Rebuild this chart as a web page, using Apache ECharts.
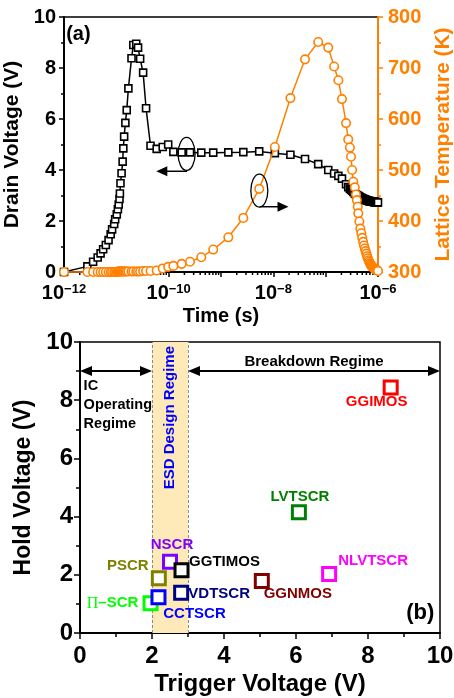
<!DOCTYPE html>
<html>
<head>
<meta charset="utf-8">
<script src="https://cdn.jsdelivr.net/npm/echarts@6/dist/echarts.min.js"></script>
<style>
html, body { margin: 0; padding: 0; background: #fff; }
#main { width: 454px; height: 698px; }
</style>
</head>
<body>
<div id="main"></div>
<script>
// ---- (a) transient: drain voltage + lattice temperature vs time ----
var timeS = [
    1e-12, 2.8e-12, 3.6e-12, 4.4e-12, 5.0e-12, 5.6e-12, 6.3e-12, 7.1e-12, 7.8e-12, 8.3e-12,
    9.1e-12, 9.5e-12, 1.02e-11, 1.07e-11, 1.11e-11, 1.15e-11, 1.17e-11, 1.2e-11, 1.26e-11, 1.32e-11,
    1.36e-11, 1.41e-11, 1.49e-11, 1.58e-11, 1.7e-11, 1.95e-11, 2.11e-11, 2.4e-11, 2.6e-11, 2.85e-11,
    3.25e-11, 3.7e-11, 4.5e-11, 5.9e-11, 7.7e-11, 9.8e-11, 1.23e-10, 1.77e-10, 2.56e-10, 4.2e-10,
    7.1e-10, 1.38e-9, 2.67e-9, 5.37e-9, 1.07e-8, 2.12e-8, 4.03e-8, 7.2e-8, 1.12e-7, 1.45e-7,
    1.75e-7, 2.05e-7,
    2.45e-7, 2.7e-7, 2.9e-7, 3.05e-7, 3.2e-7, 3.38e-7, 3.6e-7, 3.8e-7, 3.95e-7, 4.1e-7,
    4.2e-7, 4.4e-7, 4.6e-7, 4.8e-7, 5.0e-7, 5.2e-7, 5.4e-7, 5.6e-7, 5.8e-7, 6.0e-7,
    6.2e-7, 6.4e-7, 6.6e-7, 6.8e-7, 7.0e-7, 7.2e-7, 7.4e-7, 7.6e-7, 7.8e-7, 8.0e-7,
    8.2e-7, 8.4e-7, 8.6e-7, 8.8e-7, 9.0e-7, 9.2e-7, 9.4e-7, 9.6e-7, 9.8e-7, 1.0e-6
];
var drainV = [
    0.00, 0.22, 0.40, 0.57, 0.73, 0.89, 1.06, 1.25, 1.48, 1.67,
    1.88, 2.07, 2.26, 2.46, 2.65, 2.86, 3.08, 3.48, 3.87, 4.33,
    4.85, 5.31, 5.85, 6.35, 7.20, 8.38, 8.90, 8.95, 8.80, 8.36,
    7.82, 6.42, 4.95, 4.83, 4.90, 5.00, 4.71, 4.69, 4.69, 4.68,
    4.68, 4.69, 4.70, 4.73, 4.66, 4.60, 4.43, 4.23, 4.00, 3.86,
    3.77, 3.66,
    3.44, 3.33, 3.27, 3.23, 3.19, 3.14, 3.08, 3.04, 3.00, 2.99,
    2.98, 2.96, 2.93, 2.91, 2.89, 2.87, 2.86, 2.84, 2.83, 2.82,
    2.81, 2.80, 2.79, 2.78, 2.78, 2.77, 2.77, 2.76, 2.76, 2.76,
    2.75, 2.75, 2.75, 2.74, 2.74, 2.74, 2.73, 2.73, 2.73, 2.73
];
var latticeT = [
    300, 300, 300, 300, 300, 300, 300, 300, 300, 300,
    300, 300, 300, 301, 301, 301, 301, 301, 301, 301,
    301, 301, 301, 301, 301, 301, 301, 301, 301, 301,
    302, 302, 302, 303, 307, 310, 312, 316, 320, 329,
    344, 368, 406, 463, 545, 641, 717, 751, 740, 703,
    676, 639,
    592, 560, 544, 526, 500, 477, 466, 452, 441, 428,
    415, 399, 385, 376, 367, 359, 352, 346, 341, 336,
    331, 327, 323, 320, 317, 315, 313, 311, 310, 309,
    308, 307, 306, 305, 305, 304, 304, 303, 303, 302
];

// ---- (b) trigger vs hold voltage ----
var devNames = ['\u03a0\u2013SCR', 'CCTSCR', 'PSCR', 'NSCR', 'GGTIMOS', 'VDTSCR', 'GGNMOS', 'NLVTSCR', 'LVTSCR', 'GGIMOS'];
var trigV = [1.96, 2.18, 2.19, 2.50, 2.82, 2.81, 5.05, 6.92, 6.08, 8.63];
var holdV = [1.02, 1.23, 1.88, 2.45, 2.16, 1.38, 1.79, 2.03, 4.15, 8.44];

// styles for (b)
var devColors = ['#00ff00', '#0000ff', '#808000', '#8000ff', '#000000', '#000080', '#800000', '#ff00ff', '#008000', '#ff0000'];
var labelOffset = [[-38, 0], [36, 17], [-31, -12], [2, -17], [43, -8], [38, 1], [36, 13], [44, -13], [1, -15], [-14, 14]];

var FONT = '"Liberation Sans", Arial, Helvetica, sans-serif';
var ORANGE = '#ff8000';

var chart = echarts.init(document.getElementById('main'));

function pair(xs, ys) {
    var out = [];
    for (var i = 0; i < xs.length; i++) {
        out.push([xs[i], ys[i]]);
    }
    return out;
}

// minor ticks for the log axis (2..9 x 10^n)
var logMinor = [];
for (var e = -12; e < -6; e++) {
    for (var k = 2; k <= 9; k++) {
        logMinor.push([k * Math.pow(10, e), 0]);
    }
}

function expLabel(v) {
    var p = Math.round(Math.log(v) / Math.LN10);
    if (p % 2 !== 0) return '';
    return '{b|10}{s|' + (p < 0 ? '\u2212' + (-p) : p) + '}';
}

var scatterData = [];
for (var i = 0; i < devNames.length; i++) {
    scatterData.push({
        value: [trigV[i], holdV[i]],
        name: devNames[i],
        itemStyle: { color: '#fff', borderColor: devColors[i], borderWidth: 3, opacity: 1 },
        label: {
            show: true,
            position: 'inside',
            offset: labelOffset[i],
            color: devColors[i],
            formatter: i === 0 ? '{p|\u03a0}\u2013SCR' : devNames[i],
            rich: { p: { fontFamily: '"Liberation Serif", "Times New Roman", serif', fontWeight: 'normal', fontSize: 16, color: devColors[i] } }
        }
    });
}

var axisLineBlack = { show: true, onZero: false, lineStyle: { color: '#000', width: 2 } };
var tickLabelA = { color: '#000', fontFamily: FONT, fontWeight: 'bold', fontSize: 20 };
var tickLabelB = { color: '#000', fontFamily: FONT, fontWeight: 'bold', fontSize: 24 };

var option = {
    animation: false,
    backgroundColor: '#fff',
    grid: [
        { left: 64, top: 17, width: 314, height: 255, show: true, borderColor: '#000', borderWidth: 1.5, backgroundColor: 'transparent', containLabel: false, outerBoundsMode: 'none' },
        { left: 80, top: 342, width: 360, height: 291, show: true, borderColor: '#000', borderWidth: 1.5, backgroundColor: 'transparent', containLabel: false, outerBoundsMode: 'none' }
    ],
    xAxis: [
        {
            type: 'log', gridIndex: 0, logBase: 10, min: 1e-12, max: 1e-6, splitNumber: 6,
            name: 'Time (s)', nameLocation: 'middle', nameGap: 34,
            nameTextStyle: { color: '#000', fontFamily: FONT, fontWeight: 'bold', fontSize: 20 },
            axisLine: axisLineBlack,
            axisTick: { show: true, inside: false, length: 5, interval: 0, lineStyle: { color: '#000', width: 1.5 } },
            minorTick: { show: false },
            splitLine: { show: false },
            axisLabel: {
                interval: 0, margin: 11, formatter: expLabel,
                rich: {
                    b: { fontFamily: FONT, fontWeight: 'bold', fontSize: 20, color: '#000' },
                    s: { fontFamily: FONT, fontWeight: 'bold', fontSize: 13, color: '#000', verticalAlign: 'top' }
                }
            }
        },
        {
            type: 'value', gridIndex: 1, min: 0, max: 10, interval: 2,
            name: 'Trigger Voltage (V)', nameLocation: 'middle', nameGap: 39,
            nameTextStyle: { color: '#000', fontFamily: FONT, fontWeight: 'bold', fontSize: 24 },
            axisLine: axisLineBlack,
            axisTick: { show: true, inside: false, length: 6, lineStyle: { color: '#000', width: 1.5 } },
            minorTick: { show: true, splitNumber: 2, length: 4, lineStyle: { color: '#000', width: 1.5 } },
            splitLine: { show: false },
            axisLabel: Object.assign({ margin: 11 }, tickLabelB)
        }
    ],
    yAxis: [
        {
            type: 'value', gridIndex: 0, position: 'left', min: 0, max: 10, interval: 2,
            name: 'Drain Voltage (V)', nameLocation: 'middle', nameGap: 32, nameRotate: 90,
            nameTextStyle: { color: '#000', fontFamily: FONT, fontWeight: 'bold', fontSize: 21 },
            axisLine: axisLineBlack,
            axisTick: { show: true, inside: false, length: 5, lineStyle: { color: '#000', width: 1.5 } },
            minorTick: { show: true, splitNumber: 2, length: 3, lineStyle: { color: '#000', width: 1.5 } },
            splitLine: { show: false },
            axisLabel: Object.assign({ margin: 8 }, tickLabelA)
        },
        {
            type: 'value', gridIndex: 0, position: 'right', min: 300, max: 800, interval: 100,
            name: 'Lattice Temperature (K)', nameLocation: 'middle', nameGap: 53, nameRotate: 90,
            nameTextStyle: { color: ORANGE, fontFamily: FONT, fontWeight: 'bold', fontSize: 21 },
            axisLine: { show: true, lineStyle: { color: ORANGE, width: 2 } },
            axisTick: { show: true, inside: false, length: 5, lineStyle: { color: ORANGE, width: 1.5 } },
            minorTick: { show: true, splitNumber: 2, length: 3, lineStyle: { color: ORANGE, width: 1.5 } },
            splitLine: { show: false },
            axisLabel: { margin: 10, color: ORANGE, fontFamily: FONT, fontWeight: 'bold', fontSize: 20 }
        },
        {
            type: 'value', gridIndex: 1, min: 0, max: 10, interval: 2,
            name: 'Hold Voltage (V)', nameLocation: 'middle', nameGap: 44, nameRotate: 90,
            nameTextStyle: { color: '#000', fontFamily: FONT, fontWeight: 'bold', fontSize: 23 },
            axisLine: axisLineBlack,
            axisTick: { show: true, inside: false, length: 6, lineStyle: { color: '#000', width: 1.5 } },
            minorTick: { show: true, splitNumber: 2, length: 4, lineStyle: { color: '#000', width: 1.5 } },
            splitLine: { show: false },
            axisLabel: Object.assign({ margin: 7 }, tickLabelB)
        }
    ],
    series: [
        {
            type: 'custom', xAxisIndex: 0, yAxisIndex: 0, silent: true, clip: false,
            data: logMinor,
            renderItem: function(params, api) {
                var p = api.coord([api.value(0), 0]);
                return { type: 'line', shape: { x1: p[0], y1: p[1], x2: p[0], y2: p[1] + 3 }, style: { stroke: '#000', lineWidth: 1.5 } };
            }
        },
        {
            name: 'Drain Voltage', type: 'line', xAxisIndex: 0, yAxisIndex: 0,
            data: pair(timeS, drainV), clip: false, z: 3,
            symbol: 'rect', symbolSize: 7,
            itemStyle: { color: '#fff', borderColor: '#000', borderWidth: 1.6 },
            lineStyle: { color: '#000', width: 1.5 }
        },
        {
            name: 'Lattice Temperature', type: 'line', xAxisIndex: 0, yAxisIndex: 1,
            data: pair(timeS, latticeT), clip: false, z: 4,
            symbol: 'circle', symbolSize: 8.5,
            itemStyle: { color: '#fff', borderColor: ORANGE, borderWidth: 1.6 },
            lineStyle: { color: ORANGE, width: 1.5 }
        },
        {
            // ESD design window band
            type: 'line', xAxisIndex: 1, yAxisIndex: 2, data: [], z: 1, silent: true,
            markArea: {
                silent: true,
                itemStyle: { color: '#fee9b8' },
                data: [[{ xAxis: 2 }, { xAxis: 3 }]]
            },
            markLine: {
                silent: true, symbol: 'none', label: { show: false },
                lineStyle: { color: '#8a8a8a', width: 1, type: [3, 2] },
                data: [{ xAxis: 2 }, { xAxis: 3 }]
            }
        },
        {
            type: 'scatter', xAxisIndex: 1, yAxisIndex: 2, z: 5,
            symbol: 'rect', symbolSize: 13,
            data: scatterData,
            itemStyle: { opacity: 1 },
            label: { fontFamily: FONT, fontWeight: 'bold', fontSize: 15 }
        }
    ]
};

chart.setOption(option);

// ---- annotations positioned from data coordinates ----
function pa(pt) { return chart.convertToPixel({ xAxisIndex: 0, yAxisIndex: 0 }, pt); }
function pb(pt) { return chart.convertToPixel({ xAxisIndex: 1, yAxisIndex: 2 }, pt); }

function head(tip, dx, len, w) {
    // horizontal arrow head, dx = +1 points right, -1 points left
    var bx = tip[0] - dx * len;
    return {
        type: 'polygon', z: 100,
        shape: { points: [[tip[0], tip[1]], [bx, tip[1] - w / 2], [bx, tip[1] + w / 2]] },
        style: { fill: '#000' }
    };
}
function hline(p0, p1, w) {
    return { type: 'line', z: 100, shape: { x1: p0[0], y1: p0[1], x2: p1[0], y2: p1[1] }, style: { stroke: '#000', lineWidth: w } };
}
function txt(p, s, extra) {
    return {
        type: 'text', z: 100, x: p[0], y: p[1], rotation: extra.rotation || 0,
        style: Object.assign({ text: s, fontFamily: FONT, fontWeight: 'bold' }, extra.style)
    };
}

var g = [];
// (a) ellipses and arrows
var e1 = pa([2.2e-10, 4.63]);
g.push({ type: 'ellipse', z: 100, shape: { cx: e1[0], cy: e1[1], rx: 8.5, ry: 16.5 }, style: { fill: null, stroke: '#000', lineWidth: 1.3 } });
var a1s = pa([2.25e-10, 3.95]), a1t = pa([5.8e-11, 3.95]);
g.push(hline(a1s, [a1t[0] + 8, a1t[1]], 1.5), head(a1t, -1, 11, 10));
var e2 = pa([5.4e-9, 3.19]);
g.push({ type: 'ellipse', z: 100, shape: { cx: e2[0], cy: e2[1], rx: 8.5, ry: 16.5 }, style: { fill: null, stroke: '#000', lineWidth: 1.3 } });
var a2s = pa([5.5e-9, 2.56]), a2t = pa([1.95e-8, 2.56]);
g.push(hline(a2s, [a2t[0] - 8, a2t[1]], 1.5), head(a2t, 1, 11, 10));
g.push(txt(pa([1.1e-12, 9.3]), '(a)', { style: { fill: '#000', fontSize: 20, align: 'left', verticalAlign: 'middle' } }));

// (b) regime arrows
var l0 = pb([0, 9]), l1 = pb([2, 9]), r0 = pb([3, 9]), r1 = pb([10, 9]);
g.push(hline([l0[0] + 8, l0[1]], [l1[0] - 8, l1[1]], 2), head(l0, -1, 12, 10), head(l1, 1, 12, 10));
g.push(hline([r0[0] + 8, r0[1]], [r1[0] - 8, r1[1]], 2), head(r0, -1, 12, 10), head(r1, 1, 12, 10));
g.push(txt(pb([6.5, 9.33]), 'Breakdown Regime', { style: { fill: '#000', fontSize: 15, align: 'center', verticalAlign: 'middle' } }));
g.push(txt(pb([0.1, 8.82]), 'IC\nOperating\nRegime', { style: { fill: '#000', fontSize: 14.5, lineHeight: 19, align: 'left', verticalAlign: 'top' } }));
g.push(txt(pb([2.5, 7.4]), 'ESD Design Regime', { rotation: Math.PI / 2, style: { fill: '#0000ff', fontSize: 15, align: 'center', verticalAlign: 'middle' } }));
g.push(txt(pb([9.45, 0.7]), '(b)', { style: { fill: '#000', fontSize: 22, align: 'center', verticalAlign: 'middle' } }));

chart.setOption({ graphic: g });
</script>
</body>
</html>
